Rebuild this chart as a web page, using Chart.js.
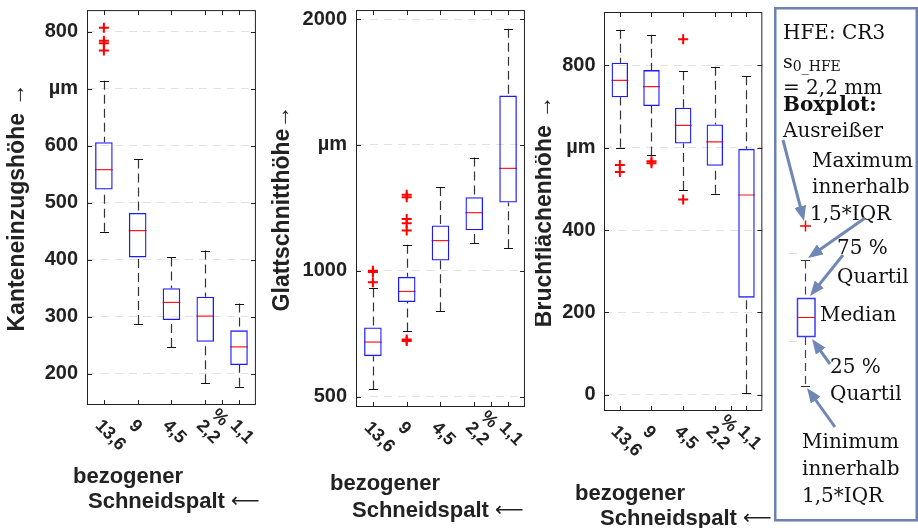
<!DOCTYPE html>
<html>
<head>
<meta charset="utf-8">
<script src="https://cdn.jsdelivr.net/npm/chart.js@4.4.1/dist/chart.umd.min.js"></script>
<style>
  body { margin: 0; background: #fff; width: 918px; height: 528px; overflow: hidden; position: relative; }
  .panel { position: absolute; top: 0; height: 528px; }
  #legend { position: absolute; left: 765px; top: 0; }
</style>
</head>
<body>
<div class="panel" style="left:0;width:266px"><canvas id="c1"></canvas></div>
<div class="panel" style="left:265px;width:270px"><canvas id="c2"></canvas></div>
<div class="panel" style="left:535px;width:237px"><canvas id="c3"></canvas></div>

<svg id="legend" width="153" height="528" viewBox="765 0 153 528" font-family="DejaVu Serif" font-size="20" fill="#111">
  <defs>
    <marker id="ah" markerWidth="5" markerHeight="4" refX="3" refY="2" orient="auto" markerUnits="strokeWidth">
      <path d="M0,0 L5,2 L0,4 z" fill="#7088b5"/>
    </marker>
  </defs>
  <rect x="775.25" y="8.25" width="141.5" height="512" fill="none" stroke="#6c82b0" stroke-width="2.5"/>
  <text x="783" y="39">HFE: CR3</text>
  <text x="783" y="68" font-size="19">s<tspan font-size="14" dy="3">0_HFE</tspan></text>
  <text x="783" y="94">= 2,2 mm</text>
  <text x="783" y="111" font-weight="bold">Boxplot:</text>
  <text x="783" y="137">Ausreißer</text>
  <text x="812" y="167">Maximum</text>
  <text x="812" y="193">innerhalb</text>
  <text x="810" y="220">1,5*IQR</text>
  <text x="837" y="254">75 %</text>
  <text x="837" y="283">Quartil</text>
  <text x="820" y="321">Median</text>
  <text x="830" y="373">25 %</text>
  <text x="830" y="400">Quartil</text>
  <text x="802" y="448">Minimum</text>
  <text x="802" y="475">innerhalb</text>
  <text x="802" y="502">1,5*IQR</text>
  <g id="miniBox" fill="none" stroke-width="1">
    <line x1="789" y1="253.5" x2="797" y2="253.5" stroke="#dcdcdc"/>
    <line x1="789" y1="341.5" x2="797" y2="341.5" stroke="#dcdcdc"/>
    <line x1="800" y1="226" x2="811" y2="226" stroke="#ff0000" stroke-width="1.5"/>
    <line x1="805.5" y1="220.5" x2="805.5" y2="231.5" stroke="#ff0000" stroke-width="1.5"/>
    <line x1="801" y1="260.5" x2="810" y2="260.5" stroke="#333"/>
    <line x1="805.5" y1="260.5" x2="805.5" y2="298" stroke="#444" stroke-width="1.2" stroke-dasharray="8,5"/>
    <line x1="805.5" y1="337" x2="805.5" y2="386" stroke="#444" stroke-width="1.2" stroke-dasharray="8,5"/>
    <line x1="801" y1="386.5" x2="810" y2="386.5" stroke="#333"/>
    <rect x="797.5" y="298.5" width="17.5" height="38" stroke="#3a3aff" stroke-width="1.5"/>
    <line x1="798" y1="317.5" x2="815" y2="317.5" stroke="#ff0000"/>
  </g>
  <g id="arrows"></g>
</svg>

<script>
// values
const categories = ['13,6', '9', '4,5', '2,2', '1,1'];

// Kanteneinzugshöhe
const kantenTicks = [200, 300, 400, 500, 600, 700, 800];
const kantenMin = [449, 287, 247, 183, 177];
const kantenQ1 = [523, 404, 294, 256, 215];
const kantenMed = [558, 451, 325, 301, 247];
const kantenQ3 = [606, 482, 350, 335, 276];
const kantenMax = [714, 576, 404, 416, 323];
const kantenOut = [[807, 784, 780, 767], [], [], [], []];

// Glattschnitthöhe
const glattTicks = [500, 1000, 1500, 2000];
const glattMin = [529, 759, 839, 1111, 1090];
const glattQ1 = [661, 876, 1041, 1161, 1271];
const glattMed = [717, 918, 1120, 1231, 1407];
const glattQ3 = [775, 976, 1180, 1292, 1696];
const glattMax = [930, 1104, 1333, 1450, 1962];
const glattOut = [[1000, 995, 955], [1302, 1292, 1206, 1189, 1160, 727, 721], [], [], []];

// Bruchflächenhöhe
const bruchTicks = [0, 200, 400, 600, 800];
const bruchMin = [600, 581, 497, 488, 4];
const bruchQ1 = [722, 701, 610, 556, 236];
const bruchMed = [763, 748, 654, 614, 485];
const bruchQ3 = [806, 788, 697, 656, 597];
const bruchMax = [886, 874, 785, 796, 773];
const bruchOut = [[558, 541], [567, 562], [863, 474], [], []];

const TEXT = '#222';
const SANS = 'Liberation Sans';

const panels = [
    {
        canvas: 'c1', title: 'Kanteneinzugshöhe →', yMin: 145, yMax: 838, unitTick: 700,
        ticks: kantenTicks, min: kantenMin, q1: kantenQ1, med: kantenMed, q3: kantenQ3, max: kantenMax, out: kantenOut,
        width: 266, area: { left: 87, right: 258, top: 10, bottom: 405 }, titlePad: 8.2, tickPad: 9,
        xTitle: [{ x: 73, y: 483 }, { x: 88, y: 508 }]
    },
    {
        canvas: 'c2', title: 'Glattschnitthöhe→', yMin: 459, yMax: 2036, unitTick: 1500,
        ticks: glattTicks, min: glattMin, q1: glattQ1, med: glattMed, q3: glattQ3, max: glattMax, out: glattOut,
        width: 270, area: { left: 91, right: 261, top: 9, bottom: 407 }, titlePad: 8.2, tickPad: 9,
        xTitle: [{ x: 65, y: 490 }, { x: 87, y: 517 }]
    },
    {
        canvas: 'c3', title: 'Bruchflächenhöhe →', yMin: -39, yMax: 929, unitTick: 600,
        ticks: bruchTicks, min: bruchMin, q1: bruchQ1, med: bruchMed, q3: bruchQ3, max: bruchMax, out: bruchOut,
        width: 237, area: { left: 69, right: 232, top: 12, bottom: 411 }, titlePad: 0.2, tickPad: 8.5,
        xTitle: [{ x: 40, y: 500 }, { x: 65, y: 525 }]
    }
];

function boxplotExtras(p) {
    return {
        id: 'boxplotExtras',
        beforeDatasetsDraw(chart) {
            const { ctx, scales: { x, y } } = chart;
            ctx.save();
            categories.forEach((c, i) => {
                const cx = Math.round(x.getPixelForValue(i)) + 0.5;
                ctx.strokeStyle = '#333';
                ctx.lineWidth = 1.2;
                ctx.setLineDash([9, 5]);
                ctx.beginPath();
                ctx.moveTo(cx, y.getPixelForValue(p.max[i]));
                ctx.lineTo(cx, y.getPixelForValue(p.q3[i]));
                ctx.moveTo(cx, y.getPixelForValue(p.min[i]));
                ctx.lineTo(cx, y.getPixelForValue(p.q1[i]));
                ctx.stroke();
                ctx.setLineDash([]);
                ctx.strokeStyle = '#111';
                ctx.lineWidth = 1;
                ctx.beginPath();
                [p.max[i], p.min[i]].forEach(v => {
                    const yy = Math.round(y.getPixelForValue(v)) + 0.5;
                    ctx.moveTo(cx - 4.5, yy);
                    ctx.lineTo(cx + 4.5, yy);
                });
                ctx.stroke();
            });
            ctx.restore();
        },
        afterDraw(chart) {
            const { ctx, chartArea: a, scales: { x, y } } = chart;
            ctx.save();
            // frame + inward ticks
            ctx.strokeStyle = '#222';
            ctx.lineWidth = 1;
            ctx.strokeRect(a.left + 0.5, a.top + 0.5, a.width - 1, a.height - 1);
            ctx.beginPath();
            y.ticks.forEach(t => {
                const yy = Math.round(y.getPixelForValue(t.value)) + 0.5;
                ctx.moveTo(a.left, yy); ctx.lineTo(a.left + 5, yy);
                ctx.moveTo(a.right, yy); ctx.lineTo(a.right - 5, yy);
            });
            [0, 1, 2, 3, 3.5, 4].forEach(v => {
                const xx = Math.round(x.getPixelForValue(v)) + 0.5;
                ctx.moveTo(xx, a.bottom); ctx.lineTo(xx, a.bottom - 5);
                ctx.moveTo(xx, a.top); ctx.lineTo(xx, a.top + 5);
            });
            ctx.stroke();

            // rotated category labels
            ctx.fillStyle = TEXT;
            ctx.textAlign = 'left';
            ctx.textBaseline = 'middle';
            ctx.font = `bold 18px "${SANS}"`;
            categories.forEach((c, i) => {
                ctx.save();
                ctx.translate(x.getPixelForValue(i) - 6, a.bottom + 18);
                ctx.rotate(Math.PI / 4);
                ctx.fillText(c, 0, 0);
                ctx.restore();
            });
            ctx.save();
            ctx.translate(x.getPixelForValue(3.5) - 8, a.bottom + 7);
            ctx.rotate(Math.PI / 4);
            ctx.fillText('%', 0, 0);
            ctx.restore();

            // x title
            ctx.textBaseline = 'alphabetic';
            ctx.font = `bold 22px "${SANS}"`;
            ctx.fillText('bezogener', p.xTitle[0].x, p.xTitle[0].y);
            ctx.fillText('Schneidspalt', p.xTitle[1].x, p.xTitle[1].y);
            const w = ctx.measureText('Schneidspalt ').width;
            ctx.font = '20px "DejaVu Sans"';
            ctx.fillText('⟵', p.xTitle[1].x + w, p.xTitle[1].y - 1);
            ctx.restore();
        }
    };
}

function makePanel(p) {
    const medRadius = (p.area.right - p.area.left) / categories.length * 0.52 / 2;
    const outliers = [];
    p.out.forEach((vals, i) => vals.forEach(v => outliers.push({ x: categories[i], y: v })));

    return new Chart(document.getElementById(p.canvas), {
        type: 'bar',
        data: {
            labels: categories,
            datasets: [
                {
                    type: 'bar',
                    data: p.q1.map((v, i) => [v, p.q3[i]]),
                    backgroundColor: 'rgba(0,0,0,0)',
                    borderColor: '#1a1aff',
                    borderWidth: 1.3,
                    borderSkipped: false,
                    barPercentage: 0.52,
                    categoryPercentage: 1
                },
                {
                    type: 'scatter',
                    data: p.med.map((v, i) => ({ x: categories[i], y: v })),
                    pointStyle: 'line',
                    pointRadius: medRadius,
                    borderColor: '#ff1a1a',
                    borderWidth: 1.2
                },
                {
                    type: 'scatter',
                    data: outliers,
                    pointStyle: 'cross',
                    pointRadius: 5,
                    borderColor: '#ff0000',
                    borderWidth: 2
                }
            ]
        },
        options: {
            responsive: true,
            maintainAspectRatio: false,
            animation: false,
            events: [],
            layout: { padding: { top: p.area.top, right: p.width - p.area.right, bottom: 0, left: 0 } },
            plugins: { legend: { display: false }, tooltip: { enabled: false } },
            scales: {
                x: {
                    type: 'category',
                    offset: true,
                    grid: { display: false },
                    border: { display: false },
                    ticks: { display: false },
                    afterFit: s => { s.height = 528 - p.area.bottom; s.paddingLeft = 0; s.paddingRight = 0; }
                },
                y: {
                    type: 'linear',
                    min: p.yMin,
                    max: p.yMax,
                    afterBuildTicks: s => { s.ticks = p.ticks.map(v => ({ value: v })); },
                    afterFit: s => { s.width = p.area.left; s.paddingTop = 0; s.paddingBottom = 0; },
                    ticks: {
                        padding: p.tickPad,
                        color: TEXT,
                        font: { family: SANS, weight: 'bold', size: 20 },
                        callback: v => (v === p.unitTick ? 'µm' : v)
                    },
                    grid: { color: '#e2e2e2', drawTicks: false },
                    border: { display: false, dash: [8, 6] },
                    title: {
                        display: true,
                        text: p.title,
                        color: TEXT,
                        font: { family: SANS, weight: 'bold', size: 23, lineHeight: 0.8 },
                        padding: { top: p.titlePad, bottom: 0 }
                    }
                }
            }
        },
        plugins: [boxplotExtras(p)]
    });
}

panels.forEach(makePanel);

// legend arrows
function addArrow(x1, y1, tx, ty) {
    const len = Math.hypot(tx - x1, ty - y1);
    const k = (len - 6) / len;
    const line = document.createElementNS('http://www.w3.org/2000/svg', 'line');
    line.setAttribute('x1', x1);
    line.setAttribute('y1', y1);
    line.setAttribute('x2', x1 + (tx - x1) * k);
    line.setAttribute('y2', y1 + (ty - y1) * k);
    line.setAttribute('stroke', '#7088b5');
    line.setAttribute('stroke-width', 3);
    line.setAttribute('marker-end', 'url(#ah)');
    document.getElementById('arrows').appendChild(line);
}
addArrow(783, 140, 804, 221);
addArrow(865, 218, 808, 258);
addArrow(843, 255, 810, 296);
addArrow(830, 364, 812, 339);
addArrow(835, 427, 807, 388);
</script>
</body>
</html>
